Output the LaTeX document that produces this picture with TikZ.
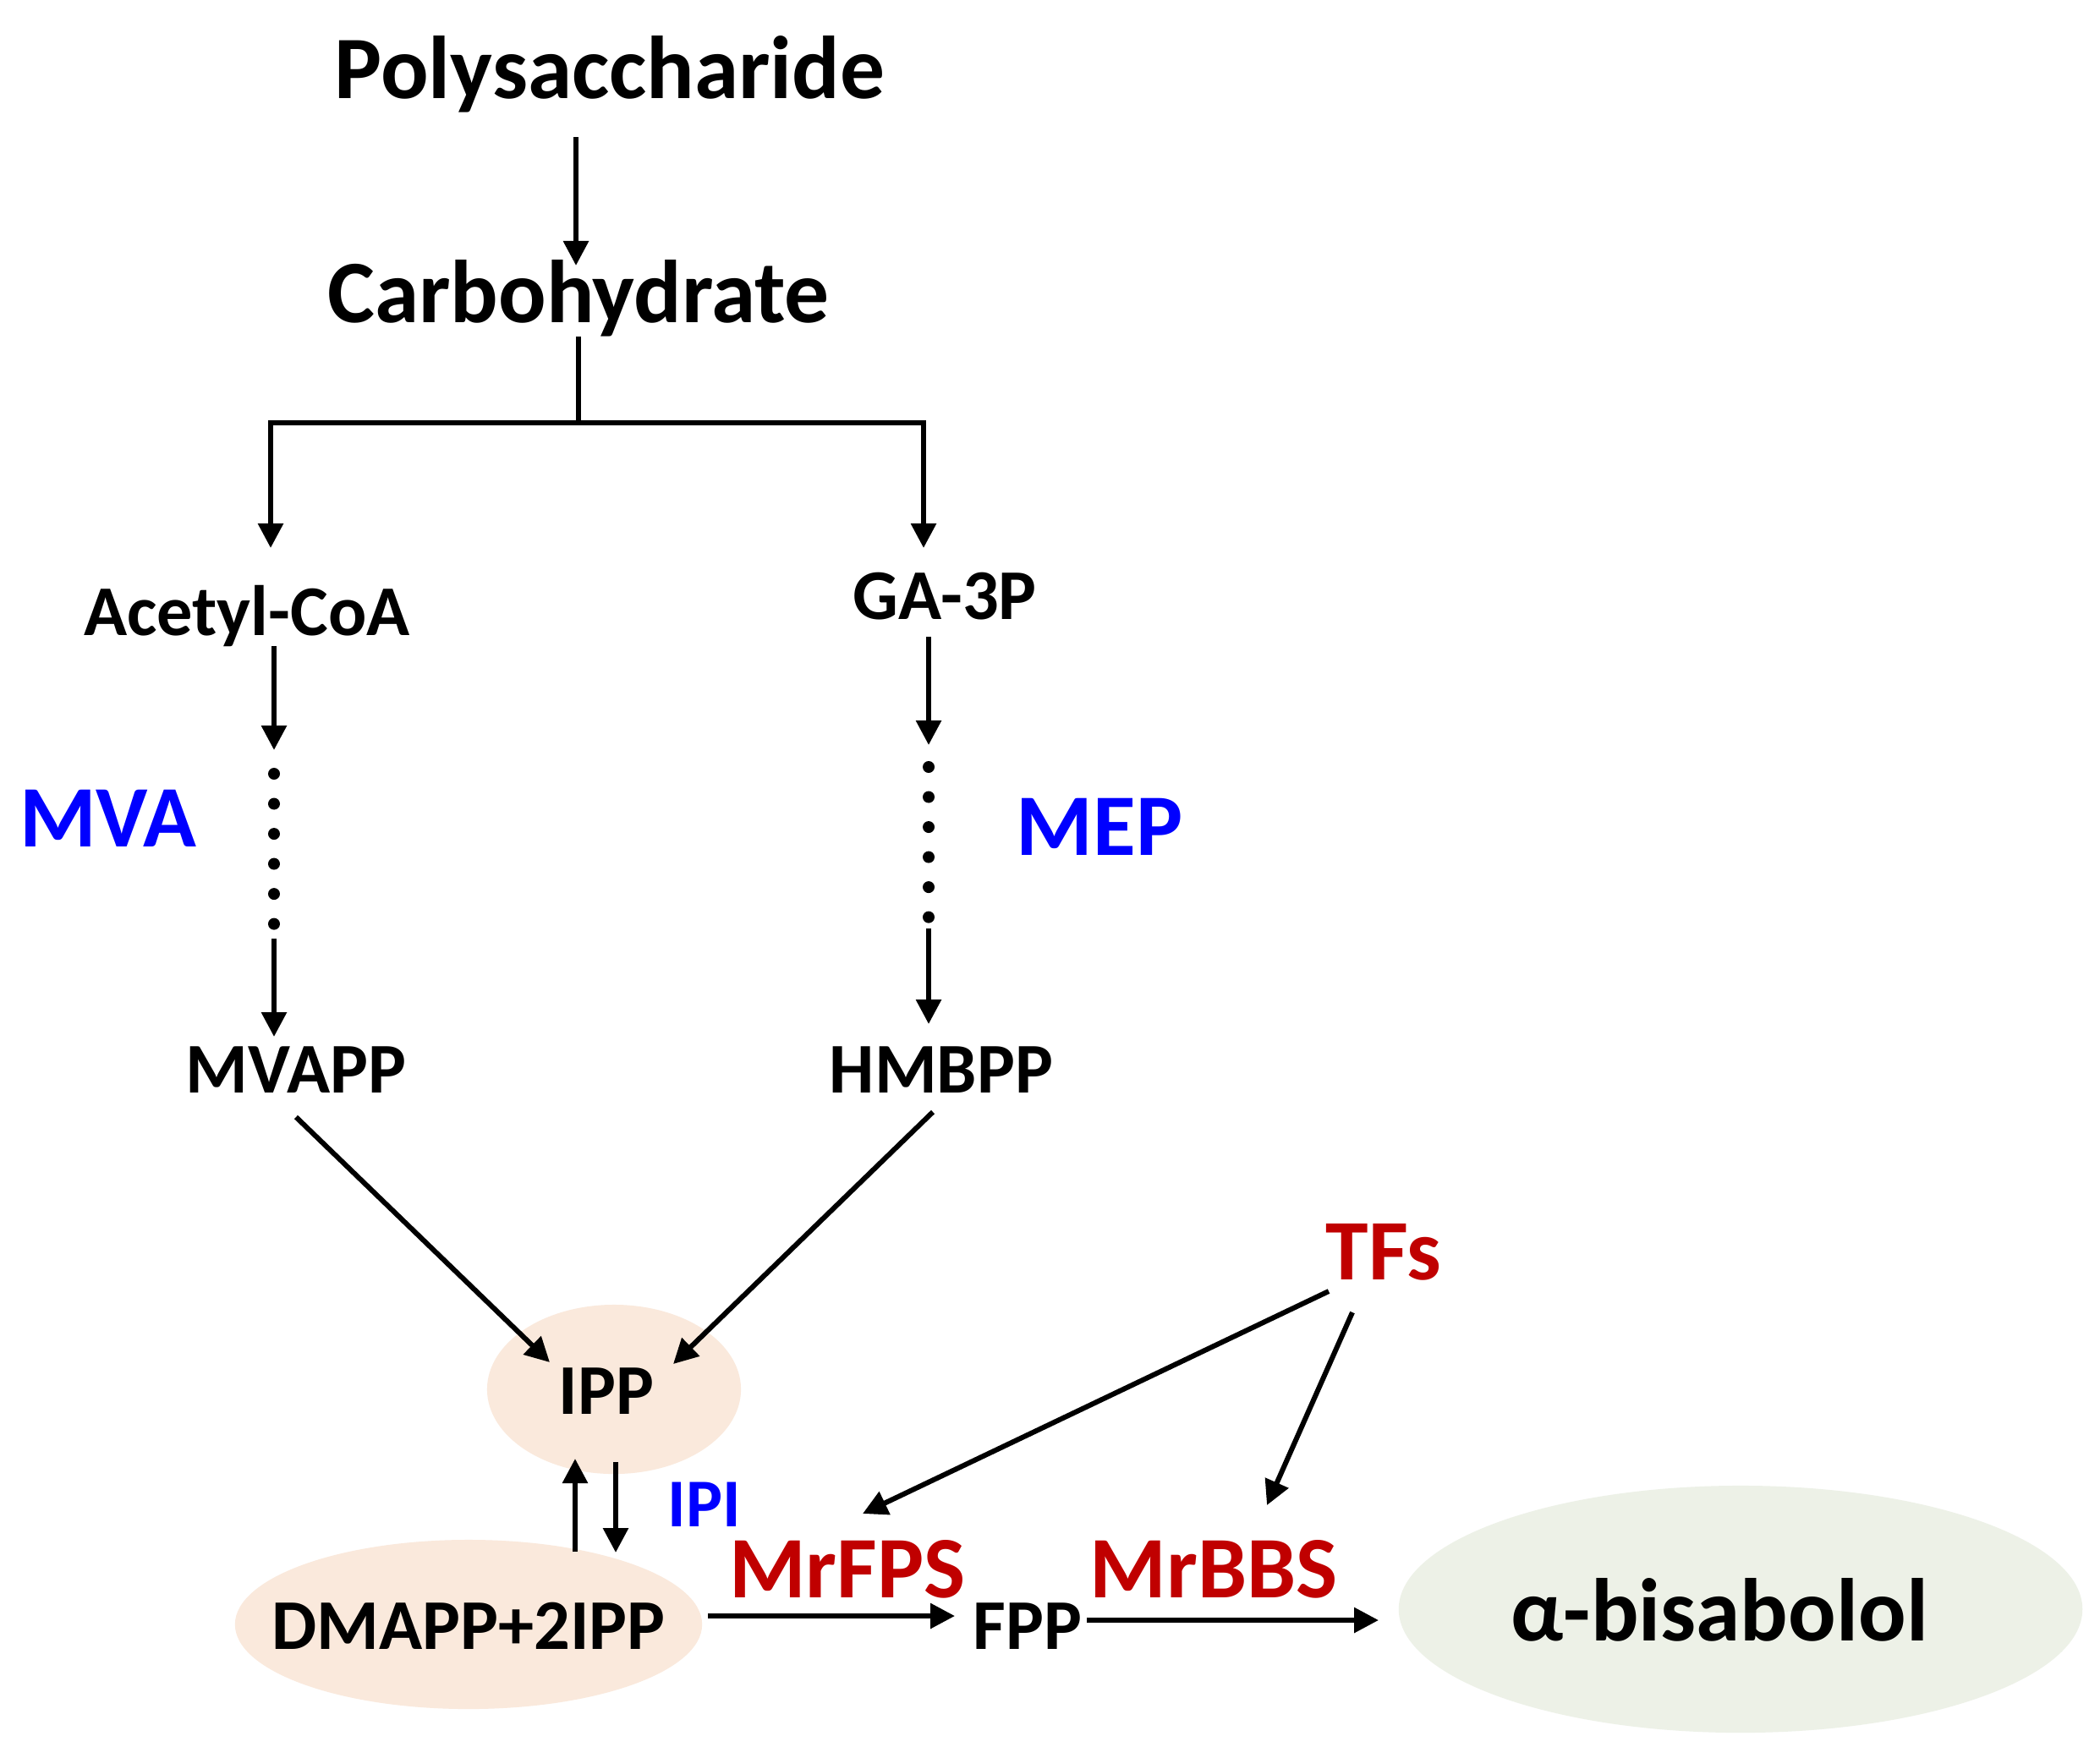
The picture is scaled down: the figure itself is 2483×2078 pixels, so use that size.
\documentclass[tikz,border=0pt]{standalone}
\usepackage{fontspec}
\setmainfont{Carlito}
\usetikzlibrary{arrows.meta,shapes.geometric,calc}
\definecolor{pwblue}{RGB}{0,0,255}
\definecolor{pwred}{RGB}{192,0,0}
\definecolor{peach}{RGB}{250,233,220}
\definecolor{sage}{RGB}{237,241,231}
\tikzset{
  lbl/.style={inner sep=0pt, outer sep=0pt, anchor=base},
  big/.style={lbl, font=\fontsize{30}{36}\selectfont\bfseries},
  mid/.style={lbl, font=\fontsize{24}{29}\selectfont\bfseries},
  arr/.style={line width=0.06cm, -{Triangle[length=0.29cm, width=0.29cm]}},
  plainline/.style={line width=0.06cm},
  dotsline/.style={line width=0.14cm, line cap=round, dash pattern=on 0pt off 0.355cm},
  blob/.style={ellipse, inner sep=0pt, outer sep=0pt, draw=none},
}
\begin{document}
\begin{tikzpicture}[x=0.01cm, y=-0.01cm]
\fill[white] (0,0) rectangle (2483,2078);
\useasboundingbox (0,0) rectangle (2483,2078);

% ellipses
\node[blob, fill=peach, minimum width=3cm, minimum height=2cm] (ipp) at (726,1643) {};
\node[blob, fill=peach, minimum width=5.52cm, minimum height=2cm] (dmapp) at (554,1921) {};
\node[blob, fill=sage, minimum width=8.08cm, minimum height=2.92cm] (bis) at (2058,1903) {};

% labels
\node[big] (poly) at (721,116) {Polysaccharide};
\node[big] (carb) at (684,381) {Carbohydrate};
\node[mid] (acetyl) at (292,751) {Acetyl-CoA};
\node[mid] (ga3p) at (1117,732) {GA-3P};
\node[big, font=\fontsize{29.5}{35}\selectfont\bfseries, text=pwblue] (mva) at (128,1001) {MVA};
\node[big, font=\fontsize{29.5}{35}\selectfont\bfseries, text=pwblue] (mep) at (1300,1011) {MEP};
\node[mid] (mvapp) at (350,1292) {MVAPP};
\node[mid] (hmbpp) at (1113,1292) {HMBPP};
\node[mid] (ipptxt) at (717,1672) {IPP};
\node[mid] (dmapptxt) at (554,1950) {DMAPP+2IPP};
\node[mid, font=\fontsize{23}{28}\selectfont\bfseries, text=pwblue] (ipi) at (833,1805) {IPI};
\node[big, font=\fontsize{29.5}{35}\selectfont\bfseries, text=pwred] (mrfps) at (1002,1889) {MrFPS};
\node[mid] (fpp) at (1215,1950) {FPP};
\node[big, font=\fontsize{29.5}{35}\selectfont\bfseries, text=pwred] (mrbbs) at (1435,1889) {MrBBS};
\node[big, font=\fontsize{29}{35}\selectfont\bfseries, text=pwred] (tfs) at (1636,1513) {TFs};
\node[big] (bistxt) at (2033,1940) {α-bisabolol};

% top
\draw[arr] ($(poly.base)+(-40,46)$) -- ($(carb.base)+(-3,-67)$);
\draw[plainline] ($(carb.base)+(0,17)$) -- ($(carb.base)+(0,119)$) coordinate (split);
\draw[arr] (split) -| ($(acetyl.base)+(28,-103)$);
\draw[arr] (split) -| ($(ga3p.base)+(-25,-84)$);

% MVA branch
\draw[arr] ($(acetyl.base)+(32,13)$) -- ($(acetyl.base)+(32,136)$);
\draw[dotsline] ($(acetyl.base)+(32,164)$) -- ($(acetyl.base)+(32,343)$);
\draw[arr] ($(acetyl.base)+(32,359)$) -- ($(mvapp.base)+(-26,-66)$);

% MEP branch
\draw[arr] ($(ga3p.base)+(-19,21)$) -- ($(ga3p.base)+(-19,149)$);
\draw[dotsline] ($(ga3p.base)+(-19,175)$) -- ($(ga3p.base)+(-19,353)$);
\draw[arr] ($(ga3p.base)+(-19,366)$) -- ($(hmbpp.base)+(-15,-81)$);

% to IPP
\draw[arr] ($(mvapp.base)+(0,29)$) -- ($(ipp.center)+(-76,-32)$);
\draw[arr] ($(hmbpp.base)+(-10,23)$) -- ($(ipp.center)+(70,-30)$);

% IPP <-> DMAPP
\draw[arr] ($(dmapp.center)+(126,-86)$) -- ($(ipp.center)+(-46,82)$);
\draw[arr] ($(ipp.center)+(2,86)$) -- ($(dmapp.center)+(174,-85)$);

% bottom chain
\draw[arr] ($(dmapp.center)+(283,-10)$) -- ($(fpp.base)+(-86,-39)$);
\draw[arr] ($(fpp.base)+(70,-34)$) -- ($(bis.center)+(-428,13)$);

% TFs
\draw[arr] ($(tfs.base)+(-65,14)$) -- ($(mrfps.base)+(18,-99)$);
\draw[arr] ($(tfs.base)+(-37,39)$) -- ($(mrbbs.base)+(63,-109)$);
\end{tikzpicture}
\end{document}
